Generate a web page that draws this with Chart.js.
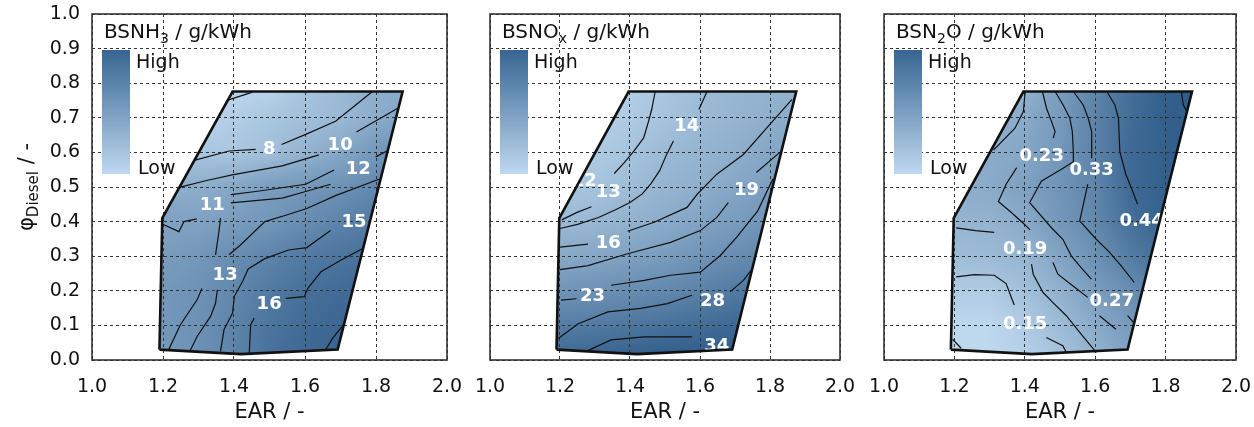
<!DOCTYPE html>
<html>
<head>
<meta charset="utf-8">
<script src="https://cdn.jsdelivr.net/npm/chart.js@4.4.1/dist/chart.umd.min.js"></script>
<style>
  body { margin: 0; background: #fff; width: 1254px; height: 427px; overflow: hidden; position: relative; }
  .panel { position: absolute; top: 0; height: 427px; }
</style>
</head>
<body>
<div class="panel" style="left:0;width:480px"><canvas id="c1"></canvas></div>
<div class="panel" style="left:470px;width:400px"><canvas id="c2"></canvas></div>
<div class="panel" style="left:864px;width:390px"><canvas id="c3"></canvas></div>
<script>
// grid of the measured maps (EAR along x, phi_Diesel along y, top row first)
const earGrid = [1.1, 1.2, 1.3, 1.4, 1.5, 1.6, 1.7, 1.8, 1.9];
const phiGrid = [0.8, 0.7, 0.6, 0.5, 0.4, 0.3, 0.2, 0.1, 0.0];

const nh3Field = [
  [7, 7, 7, 7, 7, 8, 9, 10, 10],
  [7, 7, 7, 7.5, 8, 8.5, 9, 10, 11],
  [8, 8, 8, 8, 8.5, 9.5, 10.5, 12, 13],
  [10, 10, 10, 10.5, 11.5, 12, 12.5, 13.5, 14],
  [11, 11, 11, 11.5, 12, 13, 14, 15, 15.5],
  [11.5, 11.5, 12, 13, 14, 15, 15.5, 16, 16.5],
  [12, 12, 12.5, 13.5, 15, 16, 16.5, 17, 17.5],
  [12, 12, 12.5, 14, 15.5, 16.5, 17, 17.5, 18],
  [12, 12, 12.5, 14, 16, 17, 17.5, 18, 18]
];
const noxField = [
  [11, 11, 11, 12, 13, 14.5, 15.5, 16, 16.5],
  [11, 11, 11.5, 12.5, 13.5, 15, 16, 17, 17.5],
  [12, 12, 12.5, 13.5, 15, 16, 17, 18.5, 19.5],
  [13, 13, 13.5, 14.5, 16, 17, 18.5, 20, 21],
  [15, 15, 15.5, 16.5, 17.5, 19, 20.5, 22, 23],
  [18, 18, 18.5, 19.5, 20.5, 22, 23.5, 25, 26],
  [22, 22, 22.5, 23.5, 24.5, 26, 27.5, 29, 30],
  [27, 27, 27.5, 28.5, 29.5, 30.5, 31.5, 32, 33],
  [32, 32, 33, 34, 35, 35, 35, 35, 35]
];
const n2oField = [
  [0.19, 0.19, 0.19, 0.21, 0.28, 0.36, 0.44, 0.50, 0.52],
  [0.21, 0.21, 0.22, 0.24, 0.29, 0.37, 0.45, 0.50, 0.51],
  [0.23, 0.23, 0.235, 0.25, 0.30, 0.37, 0.46, 0.50, 0.51],
  [0.235, 0.235, 0.24, 0.27, 0.31, 0.36, 0.46, 0.50, 0.51],
  [0.21, 0.21, 0.215, 0.24, 0.30, 0.35, 0.44, 0.49, 0.50],
  [0.19, 0.19, 0.195, 0.21, 0.26, 0.32, 0.39, 0.45, 0.48],
  [0.15, 0.15, 0.15, 0.18, 0.22, 0.28, 0.33, 0.40, 0.44],
  [0.13, 0.13, 0.13, 0.15, 0.19, 0.24, 0.29, 0.35, 0.40],
  [0.13, 0.13, 0.13, 0.14, 0.17, 0.21, 0.26, 0.31, 0.36]
];

// operating range (same for all three maps)
const boundaryEAR = [1.19, 1.198, 1.396, 1.875, 1.692, 1.42, 1.19];
const boundaryPhi = [0.03, 0.41, 0.776, 0.776, 0.03, 0.017, 0.03];

// contour lines [EAR, phi]
const nh3Lines = [
  [[1.385, 0.752], [1.452, 0.774]],
  [[1.288, 0.577], [1.386, 0.604], [1.461, 0.609]],
  [[1.534, 0.623], [1.602, 0.652], [1.686, 0.690], [1.790, 0.776]],
  [[1.246, 0.499], [1.320, 0.518], [1.395, 0.535], [1.536, 0.561], [1.639, 0.593]],
  [[1.745, 0.659], [1.860, 0.727]],
  [[1.391, 0.478], [1.461, 0.487], [1.602, 0.508], [1.682, 0.549]],
  [[1.799, 0.587], [1.831, 0.604]],
  [[1.391, 0.454], [1.536, 0.468], [1.602, 0.487], [1.672, 0.508]],
  [[1.198, 0.393], [1.245, 0.371], [1.259, 0.400], [1.295, 0.408]],
  [[1.386, 0.304], [1.419, 0.333], [1.487, 0.400], [1.548, 0.419], [1.605, 0.438], [1.686, 0.475], [1.810, 0.523]],
  [[1.362, 0.410], [1.357, 0.367], [1.348, 0.304]],
  [[1.310, 0.207], [1.296, 0.174], [1.249, 0.102], [1.216, 0.030]],
  [[1.353, 0.203], [1.348, 0.164], [1.334, 0.126], [1.296, 0.068], [1.277, 0.028]],
  [[1.672, 0.374], [1.605, 0.325], [1.553, 0.318], [1.487, 0.293], [1.440, 0.263], [1.425, 0.229], [1.401, 0.184], [1.396, 0.136], [1.372, 0.088], [1.362, 0.025]],
  [[1.457, 0.121], [1.447, 0.102], [1.443, 0.020]],
  [[1.546, 0.178], [1.598, 0.183], [1.608, 0.207], [1.645, 0.255], [1.702, 0.289], [1.764, 0.323]],
  [[1.659, 0.031], [1.678, 0.063], [1.711, 0.105]]
];
const noxLines = [
  [[1.472, 0.776], [1.462, 0.724], [1.453, 0.690], [1.439, 0.642], [1.411, 0.604], [1.383, 0.570], [1.355, 0.539]],
  [[1.205, 0.405], [1.247, 0.426], [1.290, 0.443]],
  [[1.200, 0.380], [1.250, 0.392], [1.310, 0.412], [1.360, 0.435], [1.400, 0.455], [1.435, 0.480], [1.460, 0.510], [1.485, 0.548], [1.505, 0.595], [1.524, 0.633]],
  [[1.597, 0.724], [1.620, 0.776]],
  [[1.200, 0.326], [1.280, 0.335]],
  [[1.393, 0.372], [1.469, 0.398], [1.563, 0.441], [1.592, 0.479], [1.648, 0.537], [1.724, 0.594], [1.799, 0.680], [1.863, 0.753]],
  [[1.200, 0.261], [1.280, 0.273], [1.393, 0.307], [1.516, 0.340], [1.601, 0.374], [1.648, 0.412], [1.681, 0.455]],
  [[1.761, 0.542], [1.828, 0.600]],
  [[1.346, 0.216], [1.441, 0.230], [1.516, 0.245], [1.601, 0.254], [1.658, 0.302], [1.705, 0.355], [1.765, 0.431], [1.808, 0.523]],
  [[1.203, 0.173], [1.247, 0.177]],
  [[1.195, 0.062], [1.252, 0.105], [1.337, 0.139], [1.431, 0.149], [1.507, 0.163], [1.577, 0.187]],
  [[1.686, 0.197], [1.724, 0.230], [1.746, 0.259]],
  [[1.275, 0.025], [1.346, 0.058], [1.441, 0.067], [1.577, 0.067]]
];
const n2oLines = [
  [[1.401, 0.776], [1.396, 0.718], [1.372, 0.670], [1.325, 0.621], [1.311, 0.607]],
  [[1.450, 0.776], [1.462, 0.727], [1.476, 0.689], [1.486, 0.660], [1.481, 0.641]],
  [[1.377, 0.556], [1.347, 0.508], [1.325, 0.458], [1.361, 0.427], [1.398, 0.393], [1.415, 0.376]],
  [[1.419, 0.277], [1.424, 0.248], [1.452, 0.195], [1.480, 0.166], [1.518, 0.128], [1.556, 0.080], [1.603, 0.022]],
  [[1.486, 0.776], [1.509, 0.737], [1.528, 0.699], [1.535, 0.660], [1.538, 0.602], [1.538, 0.573], [1.504, 0.551], [1.447, 0.517], [1.414, 0.455], [1.475, 0.383], [1.508, 0.349], [1.532, 0.301], [1.560, 0.267], [1.589, 0.234]],
  [[1.480, 0.282], [1.494, 0.248], [1.537, 0.214], [1.579, 0.181]],
  [[1.612, 0.128], [1.659, 0.089]],
  [[1.692, 0.128], [1.710, 0.107]],
  [[1.538, 0.776], [1.566, 0.737], [1.580, 0.699], [1.590, 0.660], [1.590, 0.583]],
  [[1.579, 0.508], [1.556, 0.402], [1.603, 0.349], [1.641, 0.311], [1.674, 0.272], [1.711, 0.224]],
  [[1.633, 0.776], [1.656, 0.737], [1.666, 0.699], [1.670, 0.602], [1.687, 0.537], [1.706, 0.489], [1.720, 0.451]],
  [[1.845, 0.776], [1.850, 0.738], [1.860, 0.719]],
  [[1.205, 0.382], [1.260, 0.374], [1.313, 0.369]],
  [[1.205, 0.240], [1.257, 0.247], [1.313, 0.245], [1.347, 0.221], [1.361, 0.183], [1.370, 0.159]],
  [[1.461, 0.065], [1.508, 0.041], [1.518, 0.022]],
  [[1.195, 0.060], [1.219, 0.034]]
];

// contour labels [EAR, phi, text]
const nh3Labels = [[1.499, 0.609, '8'], [1.699, 0.621, '10'], [1.750, 0.551, '12'], [1.339, 0.446, '11'],
  [1.738, 0.398, '15'], [1.375, 0.246, '13'], [1.499, 0.162, '16']];
const noxLabels = [[1.269, 0.515, '12'], [1.338, 0.484, '13'], [1.562, 0.676, '14'], [1.338, 0.337, '16'],
  [1.733, 0.489, '19'], [1.293, 0.183, '23'], [1.636, 0.171, '28'], [1.648, 0.039, '34']];
const n2oLabels = [[1.448, 0.588, '0.23'], [1.590, 0.547, '0.33'], [1.732, 0.400, '0.44'], [1.401, 0.320, '0.19'],
  [1.647, 0.169, '0.27'], [1.401, 0.104, '0.15']];

const FONT = 'DejaVu Sans';
const LIGHT = [190, 216, 238];
const DARK = [45, 90, 136];

function frac(arr, v) {
  const asc = arr[1] > arr[0];
  for (let i = 0; i < arr.length - 1; i++) {
    const a = arr[i], b = arr[i + 1];
    if ((asc && v <= b) || (!asc && v >= b)) {
      return i + Math.max(0, Math.min(1, (v - a) / (b - a)));
    }
  }
  return arr.length - 1;
}

function sample(field, ear, phi) {
  const fx = frac(earGrid, ear), fy = frac(phiGrid, phi);
  const i = Math.min(Math.floor(fx), earGrid.length - 2);
  const j = Math.min(Math.floor(fy), phiGrid.length - 2);
  const tx = fx - i, ty = fy - j;
  const top = field[j][i] * (1 - tx) + field[j][i + 1] * tx;
  const bot = field[j + 1][i] * (1 - tx) + field[j + 1][i + 1] * tx;
  return top * (1 - ty) + bot * ty;
}

function boundaryPath(chart) {
  const { ctx, scales: { x, y } } = chart;
  ctx.beginPath();
  boundaryEAR.forEach((e, i) => {
    const px = x.getPixelForValue(e), py = y.getPixelForValue(boundaryPhi[i]);
    if (i === 0) ctx.moveTo(px, py); else ctx.lineTo(px, py);
  });
  ctx.closePath();
}

function drawPieces(ctx, pieces, x0, base, size, subSize) {
  let cx = x0;
  pieces.forEach(p => {
    ctx.font = (p[1] ? subSize : size) + 'px "' + FONT + '"';
    ctx.fillText(p[0], cx, base + (p[1] ? 5 : 0));
    cx += ctx.measureText(p[0]).width;
  });
}

function makePlugin(p) {
  return {
    id: 'map' + p.id,
    beforeDraw(chart) {
      // colour map of the field, clipped to the operating range
      const { ctx, chartArea: a, scales: { x, y } } = chart;
      const w = Math.round(a.right - a.left), h = Math.round(a.bottom - a.top);
      const off = document.createElement('canvas');
      off.width = w; off.height = h;
      const octx = off.getContext('2d');
      const img = octx.createImageData(w, h);
      for (let j = 0; j < h; j++) {
        const phi = y.getValueForPixel(a.top + j + 0.5);
        for (let i = 0; i < w; i++) {
          const ear = x.getValueForPixel(a.left + i + 0.5);
          let t = (sample(p.field, ear, phi) - p.vmin) / (p.vmax - p.vmin);
          t = Math.pow(Math.max(0, Math.min(1, t)), 0.8);
          const k = (j * w + i) * 4;
          img.data[k] = LIGHT[0] + (DARK[0] - LIGHT[0]) * t;
          img.data[k + 1] = LIGHT[1] + (DARK[1] - LIGHT[1]) * t;
          img.data[k + 2] = LIGHT[2] + (DARK[2] - LIGHT[2]) * t;
          img.data[k + 3] = 255;
        }
      }
      octx.putImageData(img, 0, 0);
      ctx.save();
      boundaryPath(chart);
      ctx.clip();
      ctx.drawImage(off, a.left, a.top, w, h);
      ctx.restore();
    },
    beforeDatasetsDraw(chart) {
      const { ctx, scales: { x, y } } = chart;
      ctx.save();
      ctx.fillStyle = '#fff';
      ctx.font = 'bold 18px "' + FONT + '"';
      ctx.textAlign = 'center';
      ctx.textBaseline = 'middle';
      p.labels.forEach(l => ctx.fillText(l[2], x.getPixelForValue(l[0]), y.getPixelForValue(l[1])));
      ctx.restore();
    },
    afterDraw(chart) {
      const { ctx, chartArea: a } = chart;
      ctx.save();
      ctx.strokeStyle = '#333';
      ctx.lineWidth = 1.6;
      ctx.strokeRect(a.left, a.top, a.right - a.left, a.bottom - a.top);

      // colour bar
      const g = ctx.createLinearGradient(0, a.top + 36, 0, a.top + 160);
      g.addColorStop(0, 'rgb(55,101,146)');
      g.addColorStop(1, 'rgb(190,216,240)');
      ctx.fillStyle = g;
      ctx.fillRect(a.left + 10, a.top + 36, 28, 124);

      ctx.fillStyle = '#111';
      ctx.textBaseline = 'alphabetic';
      ctx.textAlign = 'left';
      ctx.font = '19px "' + FONT + '"';
      ctx.fillText('High', a.left + 44, a.top + 54);
      ctx.fillText('Low', a.left + 46, a.top + 160);
      drawPieces(ctx, p.title, a.left + 12, a.top + 24, 20, 14);

      if (p.showY) {
        ctx.translate(27, (a.top + a.bottom) / 2);
        ctx.rotate(-Math.PI / 2);
        const pieces = [['φ', 0], ['Diesel', 1], [' / -', 0]];
        let total = 0;
        pieces.forEach(q => { ctx.font = (q[1] ? 15 : 21) + 'px "' + FONT + '"'; total += ctx.measureText(q[0]).width; });
        drawPieces(ctx, pieces, -total / 2, 6, 21, 15);
      }
      ctx.restore();
    }
  };
}

const panels = [
  { id: 'c1', field: nh3Field, vmin: 7, vmax: 18.5, lines: nh3Lines, labels: nh3Labels,
    title: [['BSNH', 0], ['3', 1], [' / g/kWh', 0]], showY: true, padL: 8, padR: 33 },
  { id: 'c2', field: noxField, vmin: 11, vmax: 35, lines: noxLines, labels: noxLabels,
    title: [['BSNO', 0], ['x', 1], [' / g/kWh', 0]], showY: false, padL: 20, padR: 30 },
  { id: 'c3', field: n2oField, vmin: 0.13, vmax: 0.52, lines: n2oLines, labels: n2oLabels,
    title: [['BSN', 0], ['2', 1], ['O / g/kWh', 0]], showY: false, padL: 20, padR: 18 }
];

panels.forEach(p => {
  const datasets = p.lines.map(l => ({
    data: l.map(pt => ({ x: pt[0], y: pt[1] })),
    showLine: true, borderColor: '#111', borderWidth: 1.2, pointRadius: 0
  }));
  datasets.push({
    data: boundaryEAR.map((e, i) => ({ x: e, y: boundaryPhi[i] })),
    showLine: true, borderColor: '#111', borderWidth: 2.6, pointRadius: 0, borderJoinStyle: 'miter'
  });

  new Chart(document.getElementById(p.id), {
    type: 'scatter',
    data: { datasets },
    options: {
      responsive: true,
      maintainAspectRatio: false,
      animation: false,
      events: [],
      layout: { padding: { left: p.padL, right: p.padR, top: 14, bottom: 0 } },
      plugins: { legend: { display: false }, tooltip: { enabled: false } },
      scales: {
        x: {
          type: 'linear', min: 1, max: 2,
          afterFit: s => { s.height = 67; s.paddingLeft = 0; s.paddingRight = 0; },
          ticks: { stepSize: 0.2, padding: 16, color: '#111', font: { family: FONT, size: 19 },
            callback: v => v.toFixed(1) },
          grid: { color: '#333', lineWidth: 1, drawTicks: false },
          border: { display: false, dash: [3, 3] },
          title: { display: true, text: 'EAR / -', color: '#111', font: { family: FONT, size: 21 },
            padding: { top: 0, bottom: 2 } }
        },
        y: {
          type: 'linear', min: 0, max: 1,
          afterFit: s => { s.width = p.showY ? 84 : 0; s.paddingTop = 0; s.paddingBottom = 0; },
          ticks: { display: p.showY, stepSize: 0.1, padding: 12, color: '#111', font: { family: FONT, size: 19 },
            callback: v => v.toFixed(1) },
          grid: { color: '#333', lineWidth: 1, drawTicks: false },
          border: { display: false, dash: [3, 3] }
        }
      }
    },
    plugins: [makePlugin(p)]
  });
});
</script>
</body>
</html>
